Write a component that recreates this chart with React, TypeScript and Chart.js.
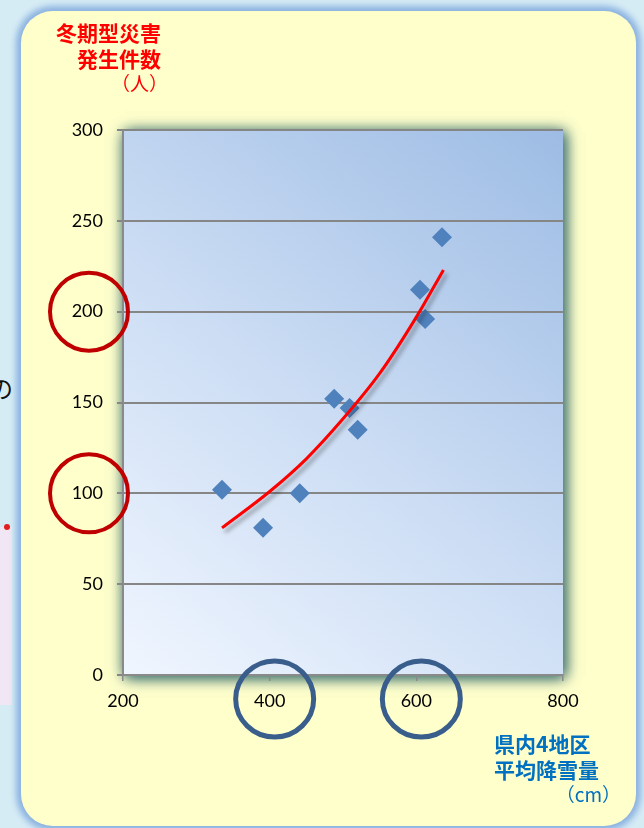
import React, { useEffect, useRef } from "react";
import { Chart, registerables } from "chart.js";

Chart.register(...registerables);

// Data
const snowfallCm = [335, 391, 441, 488, 509, 520, 605, 612, 635];
const disasterCount = [102, 81, 100, 152, 147, 135, 212, 196, 241];
const trendSnowfall = [335, 400, 450, 500, 550, 600, 637];
const trendCount = [81, 101, 119, 141, 166, 197, 223];
const xTickValues = [200, 400, 600, 800];
const yTickValues = [0, 50, 100, 150, 200, 250, 300];
const circledY = [200, 100];
const circledX = [400, 600];
const yTitleLines = ["冬期型災害", "発生件数", "（人）"];
const xTitleLines = ["県内4地区", "平均降雪量", "（cm）"];

const W = 644;
const H = 828;

export default function App() {
  const ref = useRef<HTMLCanvasElement | null>(null);

  useEffect(() => {
    if (!ref.current) return;
    const bgPlugin = {
      id: "plotBg",
      beforeDraw(chart: any) {
        const { ctx, chartArea: a } = chart;
        ctx.save();
        const g = ctx.createLinearGradient(a.left, a.bottom, a.right, a.top);
        g.addColorStop(0, "#f0f6ff");
        g.addColorStop(0.5, "#c9dbf3");
        g.addColorStop(1, "#9dbce4");
        ctx.shadowColor = "rgba(60,112,112,0.9)";
        ctx.shadowBlur = 14;
        ctx.shadowOffsetX = 2;
        ctx.shadowOffsetY = 2;
        ctx.fillStyle = g;
        ctx.fillRect(a.left, a.top, a.right - a.left, a.bottom - a.top);
        ctx.fillRect(a.left, a.top, a.right - a.left, a.bottom - a.top);
        ctx.restore();
      },
      beforeDatasetDraw(chart: any, args: any) {
        if (args.index === 0) {
          const ctx = chart.ctx;
          ctx.save();
          ctx.shadowColor = "rgba(0,0,0,0.35)";
          ctx.shadowBlur = 4;
          ctx.shadowOffsetX = 3;
          ctx.shadowOffsetY = 4;
        }
      },
      afterDatasetDraw(chart: any, args: any) {
        if (args.index === 0) chart.ctx.restore();
      },
      afterDraw(chart: any) {
        const { ctx, scales } = chart;
        const xs = scales.x;
        const ys = scales.y;
        ctx.save();
        ctx.lineWidth = 4;
        ctx.strokeStyle = "#c00000";
        circledY.forEach((v) => {
          ctx.beginPath();
          ctx.ellipse(xs.left - 34, ys.getPixelForValue(v), 39, 39, 0, 0, Math.PI * 2);
          ctx.stroke();
        });
        ctx.lineWidth = 5;
        ctx.strokeStyle = "#3a5e8c";
        circledX.forEach((v) => {
          ctx.beginPath();
          ctx.ellipse(xs.getPixelForValue(v) + 5, ys.bottom + 24, 39, 38, 0, 0, Math.PI * 2);
          ctx.stroke();
        });
        ctx.restore();
      },
    };

    const chart = new Chart(ref.current, {
      type: "scatter",
      data: {
        datasets: [
          {
            type: "line",
            data: trendSnowfall.map((x, i) => ({ x, y: trendCount[i] })),
            borderColor: "#ff0000",
            borderWidth: 3,
            pointRadius: 0,
            cubicInterpolationMode: "monotone",
            fill: false,
            order: 0,
          } as any,
          {
            data: snowfallCm.map((x, i) => ({ x, y: disasterCount[i] })),
            pointStyle: "rectRot",
            pointRadius: 10,
            pointBackgroundColor: "#4f81bd",
            pointBorderWidth: 0,
            backgroundColor: "#4f81bd",
            borderColor: "#4f81bd",
            order: 1,
          },
        ],
      },
      options: {
        responsive: false,
        animation: false,
        layout: { padding: { top: 130, right: 81, bottom: 0, left: 0 } },
        plugins: { legend: { display: false }, tooltip: { enabled: false } },
        scales: {
          x: {
            type: "linear",
            min: 200,
            max: 800,
            afterFit(s: any) {
              s.height = 153;
            },
            afterBuildTicks(s: any) {
              s.ticks = xTickValues.map((v) => ({ value: v }));
            },
            ticks: {
              color: "#000",
              font: { family: "Lato", size: 18 },
              padding: 9,
            },
            grid: {
              drawOnChartArea: false,
              drawTicks: true,
              tickLength: 6,
              color: "#8a8a8a",
              lineWidth: 1.5,
            },
            border: { display: true, color: "#8a8a8a", width: 2 },
          },
          y: {
            type: "linear",
            min: 0,
            max: 300,
            afterFit(s: any) {
              s.width = 123;
            },
            afterBuildTicks(s: any) {
              s.ticks = yTickValues.map((v) => ({ value: v }));
            },
            ticks: {
              color: "#000",
              font: { family: "Lato", size: 18 },
              padding: 14,
            },
            grid: {
              color: "#868686",
              lineWidth: 2,
              tickLength: 6,
              drawTicks: true,
            },
            border: { display: true, color: "#8a8a8a", width: 2 },
          },
        },
      },
      plugins: [bgPlugin],
    } as any);
    return () => chart.destroy();
  }, []);

  const cjk = '"Noto Sans CJK JP", "Noto Sans", sans-serif';
  const line = (text: string, style: React.CSSProperties) => (
    <div
      style={{
        position: "absolute",
        fontFamily: cjk,
        whiteSpace: "nowrap",
        lineHeight: "26px",
        ...style,
      }}
    >
      {text}
    </div>
  );

  return (
    <div
      style={{
        position: "fixed",
        left: 0,
        top: 0,
        width: W,
        height: H,
        overflow: "hidden",
        background: "#d6ecf5",
      }}
    >
      {/* fragments of neighbouring slide */}
      <div
        style={{
          position: "absolute",
          left: -11,
          top: 370,
          fontFamily: cjk,
          fontSize: 24,
          color: "#111",
        }}
      >
        の
      </div>
      <div
        style={{
          position: "absolute",
          left: 0,
          top: 527,
          width: 12,
          height: 178,
          background: "#f1e7f4",
        }}
      />
      <div
        style={{
          position: "absolute",
          left: 4,
          top: 524,
          width: 6,
          height: 6,
          borderRadius: 3,
          background: "#e02020",
        }}
      />
      {/* panel */}
      <div
        style={{
          position: "absolute",
          left: 21,
          top: 11,
          width: 615,
          height: 815,
          borderRadius: 32,
          background: "#ffffcc",
          boxShadow: "0 0 6px 5px #8bb2e0",
        }}
      />
      <canvas
        ref={ref}
        width={W}
        height={H}
        style={{ position: "absolute", left: 0, top: 0, width: W, height: H }}
      />
      {line(yTitleLines[0], { right: W - 161, top: 19, fontSize: 21, fontWeight: 700, color: "#ff0000" })}
      {line(yTitleLines[1], { right: W - 161, top: 45, fontSize: 21, fontWeight: 700, color: "#ff0000" })}
      {line(yTitleLines[2], { right: W - 168, top: 70, fontSize: 19, fontWeight: 400, color: "#ff0000" })}
      {line(xTitleLines[0], { left: 494, top: 730, fontSize: 21, fontWeight: 700, color: "#0070c0" })}
      {line(xTitleLines[1], { left: 494, top: 756, fontSize: 21, fontWeight: 700, color: "#0070c0" })}
      {line(xTitleLines[2], { right: W - 621, top: 781, fontSize: 19, fontWeight: 400, color: "#0070c0" })}
    </div>
  );
}
